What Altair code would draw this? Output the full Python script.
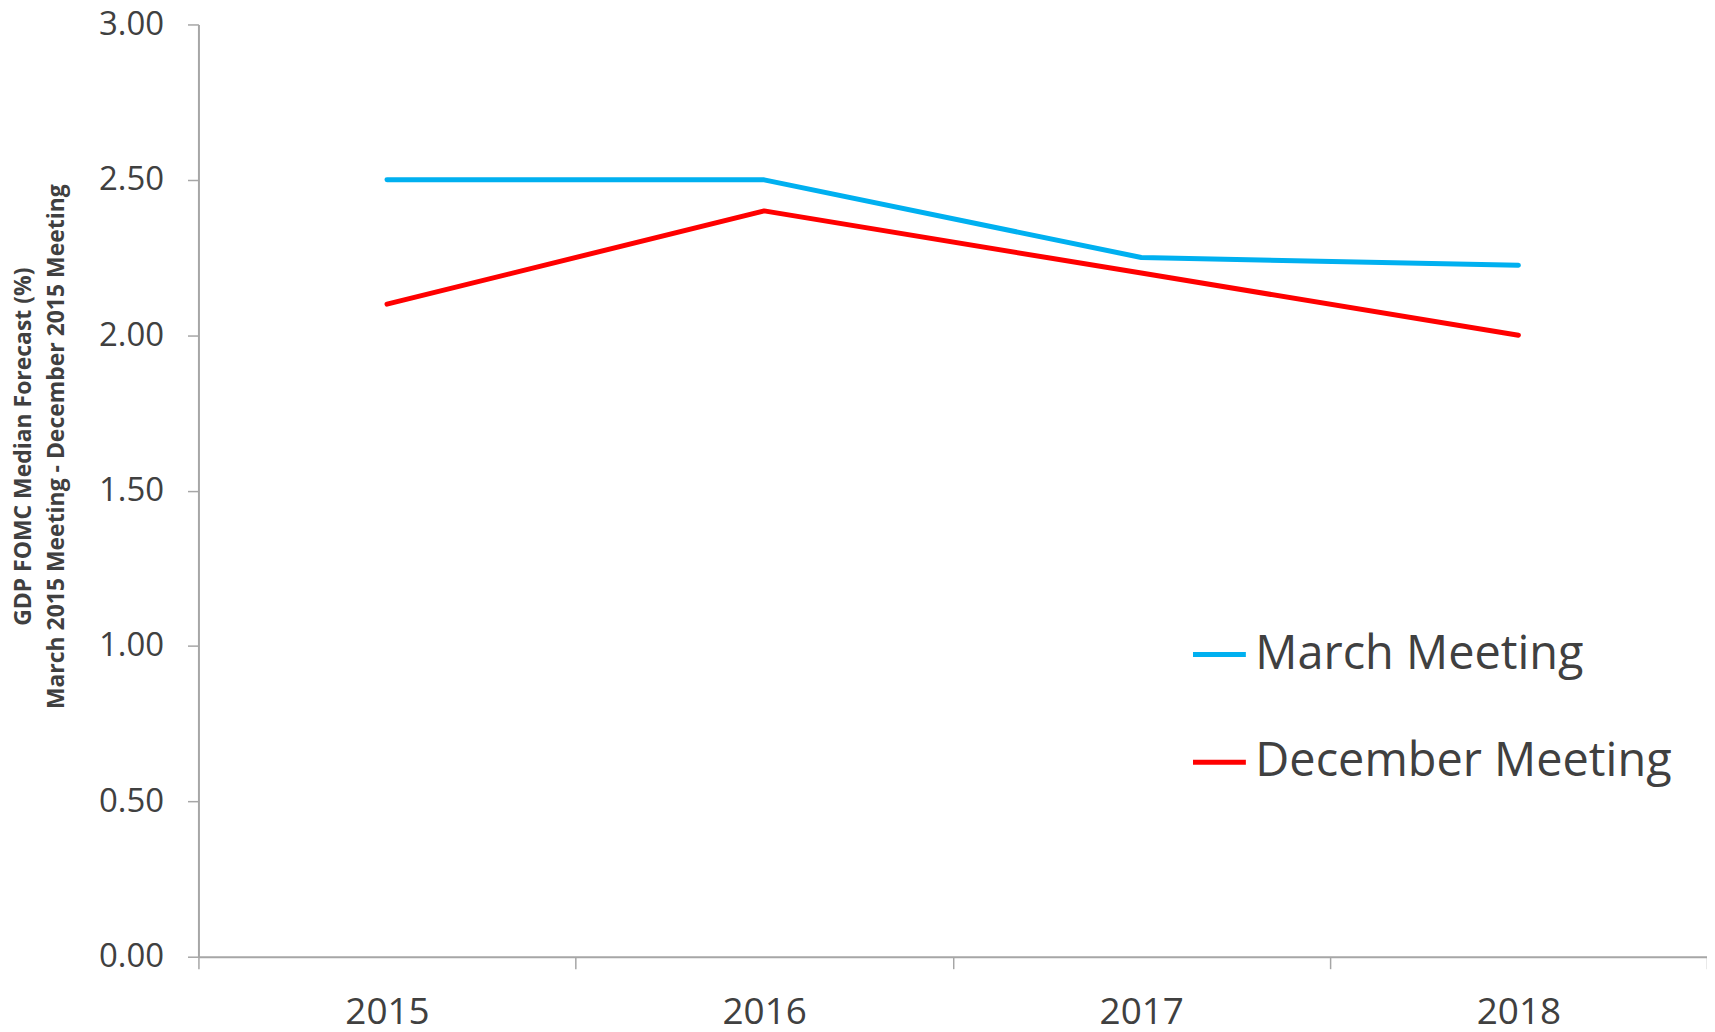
import altair as alt
import pandas as pd

years = ["2015", "2016", "2017", "2018"]
march = [2.50, 2.50, 2.25, 2.225]
december = [2.10, 2.40, 2.20, 2.00]
series_names = ["March Meeting", "December Meeting"]
colors = ["#00B0F0", "#FF0000"]

rows = []
for name, vals in zip(series_names, [march, december]):
    for y, v in zip(years, vals):
        rows.append({"year": y, "value": v, "series": name})
df = pd.DataFrame(rows)

FONT = "Open Sans"
TXT = "#404040"
AX = "#A6A6A6"

chart = alt.Chart(df).mark_line(strokeWidth=5, strokeCap="round", strokeJoin="round").encode(
    x=alt.X("year:O", bandPosition=0.5,
            scale=alt.Scale(type="band", paddingInner=0, paddingOuter=0),
            axis=alt.Axis(title=None, tickBand="extent", labelAngle=0,
                          labelFont=FONT, labelFontSize=37, labelColor=TXT,
                          labelPadding=26, tickSize=12, tickColor=AX,
                          domainColor=AX, domainWidth=2, tickWidth=1.5)),
    y=alt.Y("value:Q", scale=alt.Scale(domain=[0, 3]),
            axis=alt.Axis(values=[0, 0.5, 1, 1.5, 2, 2.5, 3], format=".2f",
                          labelFont=FONT, labelFontSize=33, labelColor=TXT,
                          labelPadding=24, tickSize=11, tickColor=AX,
                          domainColor=AX, domainWidth=2, tickWidth=1.5,
                          grid=False,
                          title=["GDP FOMC Median Forecast (%)",
                                 "March 2015 Meeting - December 2015 Meeting"],
                          titleFont=FONT, titleFontSize=23, titleFontWeight="bold",
                          titleColor=TXT, titleAngle=270, titleAlign="center",
                          titleBaseline="middle", titleLineHeight=33,
                          titleX=-175, titleY=423)),
    color=alt.Color("series:N", sort=series_names,
                    scale=alt.Scale(domain=series_names, range=colors),
                    legend=alt.Legend(title=None, orient="none", legendX=995, legendY=603,
                                      symbolType="stroke", symbolSize=2809,
                                      symbolStrokeWidth=5, labelFont=FONT,
                                      labelFontSize=47, labelColor=TXT, labelLimit=0,
                                      labelOffset=7, rowPadding=56, padding=0)),
).properties(
    width=1513, height=935,
    autosize=alt.AutoSizeParams(type="none"),
    padding={"left": 191, "top": 15, "right": 0, "bottom": 74},
).configure_view(stroke=None)

chart.save("out.html", embed_options={"renderer": "svg", "actions": False})
